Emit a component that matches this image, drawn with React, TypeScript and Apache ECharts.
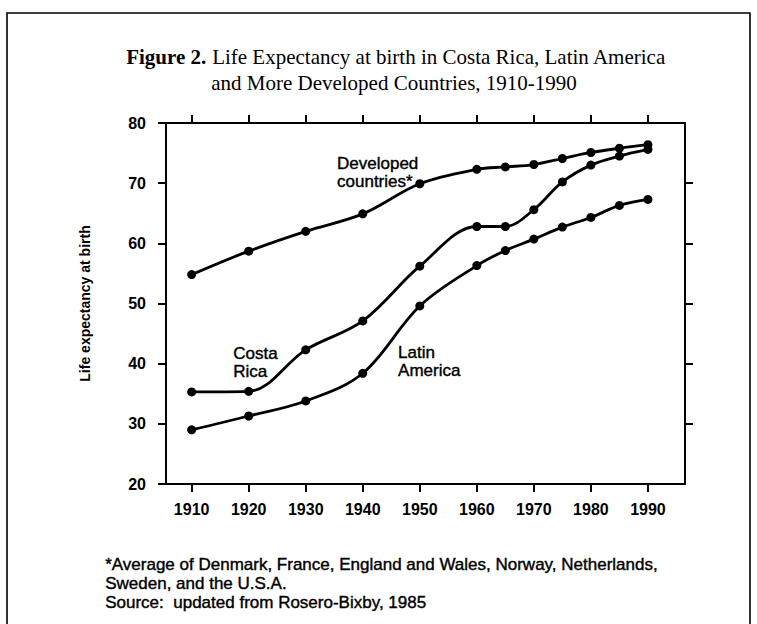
import React, { useEffect, useRef } from "react";
import * as echarts from "echarts";

const years = [1910, 1920, 1930, 1940, 1950, 1960, 1965, 1970, 1975, 1980, 1985, 1990];
const developed = [54.8, 58.7, 62.0, 64.9, 69.9, 72.3, 72.7, 73.1, 74.1, 75.1, 75.8, 76.4];
const costaRica = [35.3, 35.4, 42.3, 47.1, 56.2, 62.8, 62.8, 65.6, 70.2, 73.0, 74.5, 75.6];
const latinAmerica = [29.0, 31.3, 33.8, 38.4, 49.6, 56.3, 58.8, 60.7, 62.7, 64.3, 66.3, 67.3];
const xTicks = [1910, 1920, 1930, 1940, 1950, 1960, 1970, 1980, 1990];
const yRightTicks = [30, 40, 50, 60, 70];

const titleBold = "Figure 2.";
const titleRest1 = " Life Expectancy at birth in Costa Rica, Latin America";
const titleLine2 = "and More Developed Countries, 1910-1990";
const yAxisName = "Life expectancy at birth";
const footLines = [
  "*Average of Denmark, France, England and Wales, Norway, Netherlands,",
  "Sweden, and the U.S.A.",
  "Source:  updated from Rosero-Bixby, 1985",
];
const annotationNames = ["Developed\ncountries*", "Costa\nRica", "Latin\nAmerica"];
const annotationX = [1935.4, 1917.2, 1946.1];
const annotationY = [71.8, 40.2, 40.3];

const SANS = "'Liberation Sans', Arial, Helvetica, sans-serif";
const SERIF = "'Liberation Serif', 'Times New Roman', serif";

export default function App() {
  const ref = useRef<HTMLDivElement>(null);
  useEffect(() => {
    if (!ref.current) return;
    const chart = echarts.init(ref.current, undefined, { renderer: "svg" });
    const mkSeries = (name: string, vals: number[]) => ({
      name,
      type: "line",
      data: years.map((y, i) => [y, vals[i]]),
      smooth: 0.35,
      symbol: "circle",
      symbolSize: 9,
      lineStyle: { color: "#000", width: 2.8 },
      itemStyle: { color: "#000" },
      z: 3,
    });
    const axisLineStyle = { lineStyle: { color: "#000", width: 2 } };
    const tickStyle = { color: "#000", width: 2 };
    const option: any = {
      animation: false,
      backgroundColor: "#fff",
      graphic: [
        {
          type: "rect",
          shape: { x: 7, y: 13, width: 743, height: 640 },
          style: { fill: "none", stroke: "#000", lineWidth: 1.6 },
          silent: true,
        },
        {
          type: "text",
          x: 396,
          y: 57,
          style: {
            text: `{b|${titleBold}}{r|${titleRest1}}`,
            rich: {
              b: { fontFamily: SERIF, fontSize: 21, fontWeight: "bold", fill: "#000" },
              r: { fontFamily: SERIF, fontSize: 21, fill: "#000" },
            },
            align: "center",
            verticalAlign: "middle",
          },
        },
        {
          type: "text",
          x: 394,
          y: 83,
          style: {
            text: titleLine2,
            fontFamily: SERIF,
            fontSize: 21,
            fill: "#000",
            align: "center",
            verticalAlign: "middle",
          },
        },
        {
          type: "text",
          left: 105,
          top: 555,
          style: {
            text: footLines.join("\n"),
            fontFamily: SANS,
            fontSize: 17,
            lineHeight: 19,
            fill: "#000",
            stroke: "#000",
            lineWidth: 0.4,
          },
        },
      ],
      grid: { left: 166, top: 123, right: 72, bottom: 140, containLabel: false },
      xAxis: [
        {
          type: "value",
          min: 1905.5,
          max: 1996.5,
          position: "bottom",
          axisLine: axisLineStyle,
          axisTick: { show: true, customValues: xTicks, length: 8, inside: false, lineStyle: tickStyle },
          axisLabel: {
            customValues: xTicks,
            margin: 17,
            fontFamily: SANS,
            fontSize: 16,
            fontWeight: "bold",
            color: "#000",
            formatter: (v: number) => String(v),
          },
          splitLine: { show: false },
        },
        {
          type: "value",
          min: 1905.5,
          max: 1996.5,
          position: "top",
          axisLine: axisLineStyle,
          axisTick: { show: true, customValues: xTicks, length: 8, inside: false, lineStyle: tickStyle },
          axisLabel: { show: false },
          splitLine: { show: false },
        },
      ],
      yAxis: [
        {
          type: "value",
          min: 20,
          max: 80,
          interval: 10,
          position: "left",
          name: yAxisName,
          nameLocation: "middle",
          nameRotate: 90,
          nameGap: 74,
          nameTextStyle: { fontFamily: SANS, fontSize: 14, fontWeight: "bold", color: "#000" },
          axisLine: { show: true, ...axisLineStyle },
          axisTick: { show: true, length: 8, inside: false, lineStyle: tickStyle },
          axisLabel: { margin: 20, fontFamily: SANS, fontSize: 16, fontWeight: "bold", color: "#000" },
          splitLine: { show: false },
        },
        {
          type: "value",
          min: 20,
          max: 80,
          interval: 10,
          position: "right",
          axisLine: { show: true, ...axisLineStyle },
          axisTick: { show: true, customValues: yRightTicks, length: 8, inside: false, lineStyle: tickStyle },
          axisLabel: { show: false },
          splitLine: { show: false },
        },
      ],
      series: [
        mkSeries("Developed countries", developed),
        mkSeries("Costa Rica", costaRica),
        mkSeries("Latin America", latinAmerica),
        {
          name: "labels",
          type: "scatter",
          silent: true,
          symbolSize: 1,
          itemStyle: { color: "rgba(0,0,0,0)", opacity: 1 },
          data: annotationNames.map((n, i) => ({ value: [annotationX[i], annotationY[i]], name: n })),
          label: {
            show: true,
            position: "right",
            distance: 0,
            formatter: (p: any) => p.name,
            fontFamily: SANS,
            fontSize: 17,
            lineHeight: 18,
            color: "#000",
            opacity: 1,
            textBorderColor: "#000",
            textBorderWidth: 0.4,
            align: "left",
            verticalAlign: "middle",
          },
          z: 5,
        },
      ],
    };
    chart.setOption(option);
    return () => chart.dispose();
  }, []);
  return (
    <div
      ref={ref}
      style={{ position: "fixed", left: 0, top: 0, width: 757, height: 624 }}
    />
  );
}
